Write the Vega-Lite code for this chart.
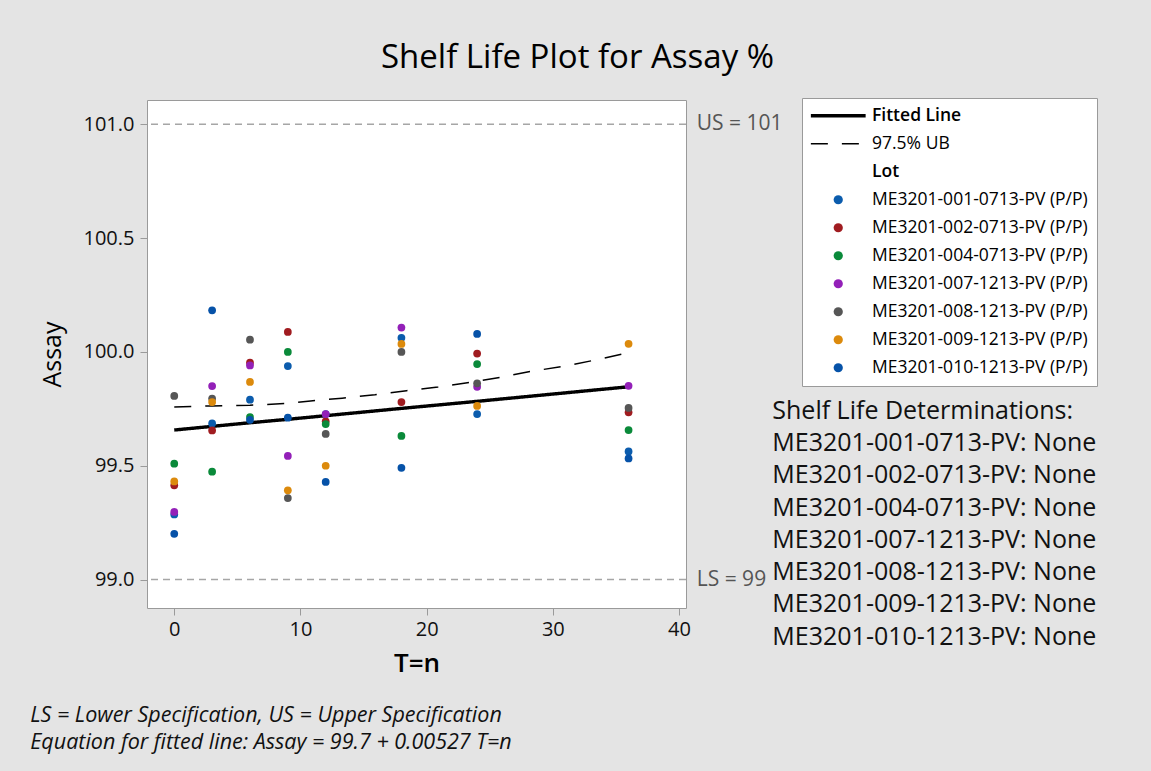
{
  "$schema": "https://vega.github.io/schema/vega-lite/v6.json",
  "width": 539,
  "height": 508,
  "autosize": {"type": "none"},
  "padding": {"left": 147, "top": 100, "right": 465, "bottom": 163},
  "background": "#E4E4E4",
  "title": {
    "text": "Shelf Life Plot for Assay %",
    "fontSize": 33,
    "fontWeight": 500,
    "frame": "group",
    "anchor": "middle",
    "dx": 161,
    "offset": 23,
    "color": "#000000"
  },
  "config": {
    "font": "Open Sans",
    "view": {"fill": "white", "stroke": "#9A9A9A", "strokeWidth": 1},
    "axis": {
      "grid": false,
      "domain": false,
      "tickColor": "#9A9A9A",
      "tickSize": 7,
      "labelFontSize": 20,
      "labelColor": "#111111",
      "titleColor": "#000000",
      "titleFontWeight": 600
    }
  },
  "datasets": {
    "points": [
      {"T": 0, "Assay": 99.286, "Lot": "ME3201-001-0713-PV (P/P)"},
      {"T": 3, "Assay": 99.686, "Lot": "ME3201-001-0713-PV (P/P)"},
      {"T": 6, "Assay": 99.79, "Lot": "ME3201-001-0713-PV (P/P)"},
      {"T": 9, "Assay": 99.938, "Lot": "ME3201-001-0713-PV (P/P)"},
      {"T": 12, "Assay": 99.727, "Lot": "ME3201-001-0713-PV (P/P)"},
      {"T": 18, "Assay": 100.062, "Lot": "ME3201-001-0713-PV (P/P)"},
      {"T": 24, "Assay": 99.727, "Lot": "ME3201-001-0713-PV (P/P)"},
      {"T": 36, "Assay": 99.563, "Lot": "ME3201-001-0713-PV (P/P)"},
      {"T": 0, "Assay": 99.414, "Lot": "ME3201-002-0713-PV (P/P)"},
      {"T": 3, "Assay": 99.655, "Lot": "ME3201-002-0713-PV (P/P)"},
      {"T": 6, "Assay": 99.953, "Lot": "ME3201-002-0713-PV (P/P)"},
      {"T": 9, "Assay": 100.088, "Lot": "ME3201-002-0713-PV (P/P)"},
      {"T": 12, "Assay": 99.695, "Lot": "ME3201-002-0713-PV (P/P)"},
      {"T": 18, "Assay": 99.78, "Lot": "ME3201-002-0713-PV (P/P)"},
      {"T": 24, "Assay": 99.993, "Lot": "ME3201-002-0713-PV (P/P)"},
      {"T": 36, "Assay": 99.735, "Lot": "ME3201-002-0713-PV (P/P)"},
      {"T": 0, "Assay": 99.509, "Lot": "ME3201-004-0713-PV (P/P)"},
      {"T": 3, "Assay": 99.474, "Lot": "ME3201-004-0713-PV (P/P)"},
      {"T": 6, "Assay": 99.714, "Lot": "ME3201-004-0713-PV (P/P)"},
      {"T": 9, "Assay": 100.0, "Lot": "ME3201-004-0713-PV (P/P)"},
      {"T": 12, "Assay": 99.683, "Lot": "ME3201-004-0713-PV (P/P)"},
      {"T": 18, "Assay": 99.631, "Lot": "ME3201-004-0713-PV (P/P)"},
      {"T": 24, "Assay": 99.947, "Lot": "ME3201-004-0713-PV (P/P)"},
      {"T": 36, "Assay": 99.657, "Lot": "ME3201-004-0713-PV (P/P)"},
      {"T": 0, "Assay": 99.297, "Lot": "ME3201-007-1213-PV (P/P)"},
      {"T": 3, "Assay": 99.85, "Lot": "ME3201-007-1213-PV (P/P)"},
      {"T": 6, "Assay": 99.941, "Lot": "ME3201-007-1213-PV (P/P)"},
      {"T": 9, "Assay": 99.543, "Lot": "ME3201-007-1213-PV (P/P)"},
      {"T": 12, "Assay": 99.727, "Lot": "ME3201-007-1213-PV (P/P)"},
      {"T": 18, "Assay": 100.107, "Lot": "ME3201-007-1213-PV (P/P)"},
      {"T": 24, "Assay": 99.847, "Lot": "ME3201-007-1213-PV (P/P)"},
      {"T": 36, "Assay": 99.851, "Lot": "ME3201-007-1213-PV (P/P)"},
      {"T": 0, "Assay": 99.807, "Lot": "ME3201-008-1213-PV (P/P)"},
      {"T": 3, "Assay": 99.795, "Lot": "ME3201-008-1213-PV (P/P)"},
      {"T": 6, "Assay": 100.054, "Lot": "ME3201-008-1213-PV (P/P)"},
      {"T": 9, "Assay": 99.358, "Lot": "ME3201-008-1213-PV (P/P)"},
      {"T": 12, "Assay": 99.64, "Lot": "ME3201-008-1213-PV (P/P)"},
      {"T": 18, "Assay": 100.0, "Lot": "ME3201-008-1213-PV (P/P)"},
      {"T": 24, "Assay": 99.862, "Lot": "ME3201-008-1213-PV (P/P)"},
      {"T": 36, "Assay": 99.754, "Lot": "ME3201-008-1213-PV (P/P)"},
      {"T": 0, "Assay": 99.431, "Lot": "ME3201-009-1213-PV (P/P)"},
      {"T": 3, "Assay": 99.78, "Lot": "ME3201-009-1213-PV (P/P)"},
      {"T": 6, "Assay": 99.868, "Lot": "ME3201-009-1213-PV (P/P)"},
      {"T": 9, "Assay": 99.392, "Lot": "ME3201-009-1213-PV (P/P)"},
      {"T": 12, "Assay": 99.5, "Lot": "ME3201-009-1213-PV (P/P)"},
      {"T": 18, "Assay": 100.035, "Lot": "ME3201-009-1213-PV (P/P)"},
      {"T": 24, "Assay": 99.763, "Lot": "ME3201-009-1213-PV (P/P)"},
      {"T": 36, "Assay": 100.036, "Lot": "ME3201-009-1213-PV (P/P)"},
      {"T": 0, "Assay": 99.201, "Lot": "ME3201-010-1213-PV (P/P)"},
      {"T": 3, "Assay": 100.183, "Lot": "ME3201-010-1213-PV (P/P)"},
      {"T": 6, "Assay": 99.702, "Lot": "ME3201-010-1213-PV (P/P)"},
      {"T": 9, "Assay": 99.711, "Lot": "ME3201-010-1213-PV (P/P)"},
      {"T": 12, "Assay": 99.429, "Lot": "ME3201-010-1213-PV (P/P)"},
      {"T": 18, "Assay": 99.491, "Lot": "ME3201-010-1213-PV (P/P)"},
      {"T": 24, "Assay": 100.079, "Lot": "ME3201-010-1213-PV (P/P)"},
      {"T": 36, "Assay": 99.532, "Lot": "ME3201-010-1213-PV (P/P)"}
    ],
    "fit": [
      {"T": 0, "Assay": 99.657, "Lot": "Fitted Line"},
      {"T": 3, "Assay": 99.673, "Lot": "Fitted Line"},
      {"T": 6, "Assay": 99.689, "Lot": "Fitted Line"},
      {"T": 9, "Assay": 99.704, "Lot": "Fitted Line"},
      {"T": 12, "Assay": 99.72, "Lot": "Fitted Line"},
      {"T": 18, "Assay": 99.752, "Lot": "Fitted Line"},
      {"T": 24, "Assay": 99.783, "Lot": "Fitted Line"},
      {"T": 30, "Assay": 99.815, "Lot": "Fitted Line"},
      {"T": 36, "Assay": 99.847, "Lot": "Fitted Line"}
    ],
    "ub": [
      {"T": 0, "Assay": 99.758, "Lot": "97.5% UB"},
      {"T": 3, "Assay": 99.763, "Lot": "97.5% UB"},
      {"T": 6, "Assay": 99.766, "Lot": "97.5% UB"},
      {"T": 9, "Assay": 99.774, "Lot": "97.5% UB"},
      {"T": 10.8, "Assay": 99.785, "Lot": "97.5% UB"},
      {"T": 13.3, "Assay": 99.797, "Lot": "97.5% UB"},
      {"T": 15.9, "Assay": 99.812, "Lot": "97.5% UB"},
      {"T": 18.4, "Assay": 99.83, "Lot": "97.5% UB"},
      {"T": 20.9, "Assay": 99.846, "Lot": "97.5% UB"},
      {"T": 23.1, "Assay": 99.864, "Lot": "97.5% UB"},
      {"T": 26.0, "Assay": 99.89, "Lot": "97.5% UB"},
      {"T": 28.4, "Assay": 99.916, "Lot": "97.5% UB"},
      {"T": 31.0, "Assay": 99.938, "Lot": "97.5% UB"},
      {"T": 33.4, "Assay": 99.965, "Lot": "97.5% UB"},
      {"T": 36, "Assay": 99.997, "Lot": "97.5% UB"}
    ],
    "specs": [
      {"Assay": 101, "label": "US = 101"},
      {"Assay": 99, "label": "LS = 99"}
    ]
  },
  "layer": [
    {
      "data": {"name": "specs"},
      "mark": {"type": "rule", "color": "#A6A6A6", "strokeWidth": 1.5, "strokeDash": [7, 5]},
      "encoding": {
        "y": {"field": "Assay", "type": "quantitative", "scale": {"domain": [98.875, 101.107], "nice": false, "zero": false}}
      }
    },
    {
      "data": {"name": "specs"},
      "mark": {"type": "text", "align": "left", "baseline": "middle", "fontSize": 21, "color": "#555555"},
      "encoding": {
        "x": {"datum": 41.4, "type": "quantitative", "scale": {"domain": [-2.16, 40.55], "nice": false, "zero": false}},
        "y": {"field": "Assay", "type": "quantitative", "scale": {"domain": [98.875, 101.107], "nice": false, "zero": false}},
        "text": {"field": "label"}
      }
    },
    {
      "data": {"name": "fit"},
      "mark": {"type": "line", "strokeWidth": 3.4},
      "encoding": {
        "x": {"field": "T", "type": "quantitative", "scale": {"domain": [-2.16, 40.55], "nice": false, "zero": false}},
        "y": {"field": "Assay", "type": "quantitative", "scale": {"domain": [98.875, 101.107], "nice": false, "zero": false}},
        "color": {
          "field": "Lot", "type": "nominal",
          "legend": {
            "orient": "none", "legendX": 655, "legendY": -2, "title": null,
            "fillColor": "white", "strokeColor": "#9A9A9A", "padding": 9,
            "labelFontSize": 17.5, "labelLimit": 400, "rowPadding": 9, "labelOffset": 25,
            "symbolOffset": 18.5,
            "labelColor": "#000000",
            "labelExpr": "datum.value == '97.5% UB' ? '\u00a0\u00a0\u00a0\u00a097.5% UB' : datum.value == 'Fitted Line' ? '\u00a0\u00a0Fitted Line' : datum.value",
            "encode": {
              "labels": {"update": {"fontWeight": {"signal": "datum.value == 'Fitted Line' || datum.value == 'Lot' ? 600 : 400"}}},
              "symbols": {"update": {
                "strokeWidth": {"signal": "datum.value == 'Fitted Line' ? 3.4 : datum.value == '97.5% UB' ? 1.5 : 0"},
                "size": {"signal": "datum.value == 'Fitted Line' || datum.value == '97.5% UB' ? 3000 : 85"}
              }}
            }
          }
        },
        "strokeDash": {"field": "Lot", "type": "nominal"}
      }
    },
    {
      "data": {"name": "ub"},
      "mark": {"type": "line", "strokeWidth": 1.5},
      "encoding": {
        "x": {"field": "T", "type": "quantitative", "scale": {"domain": [-2.16, 40.55], "nice": false, "zero": false}},
        "y": {"field": "Assay", "type": "quantitative", "scale": {"domain": [98.875, 101.107], "nice": false, "zero": false}},
        "color": {"field": "Lot", "type": "nominal"},
        "strokeDash": {"field": "Lot", "type": "nominal"}
      }
    },
    {
      "data": {"name": "points"},
      "mark": {"type": "point", "filled": true, "opacity": 1, "size": 60},
      "encoding": {
        "x": {
          "field": "T", "type": "quantitative",
          "scale": {"domain": [-2.16, 40.55], "nice": false, "zero": false},
          "axis": {"title": "T=n", "titleFontSize": 26, "values": [0, 10, 20, 30, 40], "labelPadding": 4, "titlePadding": 11}
        },
        "y": {
          "field": "Assay", "type": "quantitative",
          "scale": {"domain": [98.875, 101.107], "nice": false, "zero": false},
          "axis": {"title": "Assay", "titleFontSize": 25, "titleFontWeight": 500, "values": [99, 99.5, 100, 100.5, 101], "format": ".1f", "labelPadding": 6, "titlePadding": 18}
        },
        "color": {
          "field": "Lot", "type": "nominal",
          "scale": {
            "domain": ["Fitted Line", "97.5% UB", "Lot", "ME3201-001-0713-PV (P/P)", "ME3201-002-0713-PV (P/P)", "ME3201-004-0713-PV (P/P)", "ME3201-007-1213-PV (P/P)", "ME3201-008-1213-PV (P/P)", "ME3201-009-1213-PV (P/P)", "ME3201-010-1213-PV (P/P)"],
            "range": ["#000000", "#000000", "transparent", "#0B5CAD", "#A01C20", "#0A8A3A", "#9320B8", "#565656", "#DC8A0C", "#0652A8"]
          },
          "legend": {
            "orient": "none", "legendX": 655, "legendY": -2, "title": null,
            "fillColor": "white", "strokeColor": "#9A9A9A", "padding": 9,
            "labelFontSize": 17.5, "labelLimit": 400, "rowPadding": 9, "labelOffset": 25,
            "symbolOffset": 18.5,
            "labelColor": "#000000",
            "labelExpr": "datum.value == '97.5% UB' ? '\u00a0\u00a0\u00a0\u00a097.5% UB' : datum.value == 'Fitted Line' ? '\u00a0\u00a0Fitted Line' : datum.value",
            "encode": {
              "labels": {"update": {"fontWeight": {"signal": "datum.value == 'Fitted Line' || datum.value == 'Lot' ? 600 : 400"}}},
              "symbols": {"update": {
                "strokeWidth": {"signal": "datum.value == 'Fitted Line' ? 3.4 : datum.value == '97.5% UB' ? 1.5 : 0"},
                "size": {"signal": "datum.value == 'Fitted Line' || datum.value == '97.5% UB' ? 3000 : 85"}
              }}
            }
          }
        },
        "shape": {
          "field": "Lot", "type": "nominal",
          "scale": {
            "domain": ["Fitted Line", "97.5% UB", "Lot", "ME3201-001-0713-PV (P/P)", "ME3201-002-0713-PV (P/P)", "ME3201-004-0713-PV (P/P)", "ME3201-007-1213-PV (P/P)", "ME3201-008-1213-PV (P/P)", "ME3201-009-1213-PV (P/P)", "ME3201-010-1213-PV (P/P)"],
            "range": ["stroke", "stroke", "circle", "circle", "circle", "circle", "circle", "circle", "circle", "circle"]
          },
          "legend": {"orient": "none", "legendX": 655, "legendY": -2, "title": null}
        },
        "strokeDash": {
          "field": "Lot", "type": "nominal",
          "scale": {
            "domain": ["Fitted Line", "97.5% UB", "Lot", "ME3201-001-0713-PV (P/P)", "ME3201-002-0713-PV (P/P)", "ME3201-004-0713-PV (P/P)", "ME3201-007-1213-PV (P/P)", "ME3201-008-1213-PV (P/P)", "ME3201-009-1213-PV (P/P)", "ME3201-010-1213-PV (P/P)"],
            "range": [[1, 0], [17, 14], [1, 0], [1, 0], [1, 0], [1, 0], [1, 0], [1, 0], [1, 0], [1, 0]]
          },
          "legend": {"orient": "none", "legendX": 655, "legendY": -2, "title": null}
        }
      }
    },
    {
      "data": {"values": [{}]},
      "mark": {
        "type": "text", "align": "left", "baseline": "middle", "fontSize": 25, "lineHeight": 32.3, "color": "#111111",
        "text": ["Shelf Life Determinations:", "ME3201-001-0713-PV: None", "ME3201-002-0713-PV: None", "ME3201-004-0713-PV: None", "ME3201-007-1213-PV: None", "ME3201-008-1213-PV: None", "ME3201-009-1213-PV: None", "ME3201-010-1213-PV: None"]
      },
      "encoding": {
        "x": {"datum": 47.39, "type": "quantitative", "scale": {"domain": [-2.16, 40.55], "nice": false, "zero": false}},
        "y": {"datum": 99.742, "type": "quantitative", "scale": {"domain": [98.875, 101.107], "nice": false, "zero": false}}
      }
    },
    {
      "data": {"values": [{}]},
      "mark": {
        "type": "text", "align": "left", "baseline": "middle", "fontSize": 21.5, "fontStyle": "italic", "lineHeight": 27, "color": "#111111",
        "text": ["LS = Lower Specification, US = Upper Specification", "Equation for fitted line: Assay = 99.7 + 0.00527 T=n"]
      },
      "encoding": {
        "x": {"datum": -11.41, "type": "quantitative", "scale": {"domain": [-2.16, 40.55], "nice": false, "zero": false}},
        "y": {"datum": 98.399, "type": "quantitative", "scale": {"domain": [98.875, 101.107], "nice": false, "zero": false}}
      }
    }
  ]
}
